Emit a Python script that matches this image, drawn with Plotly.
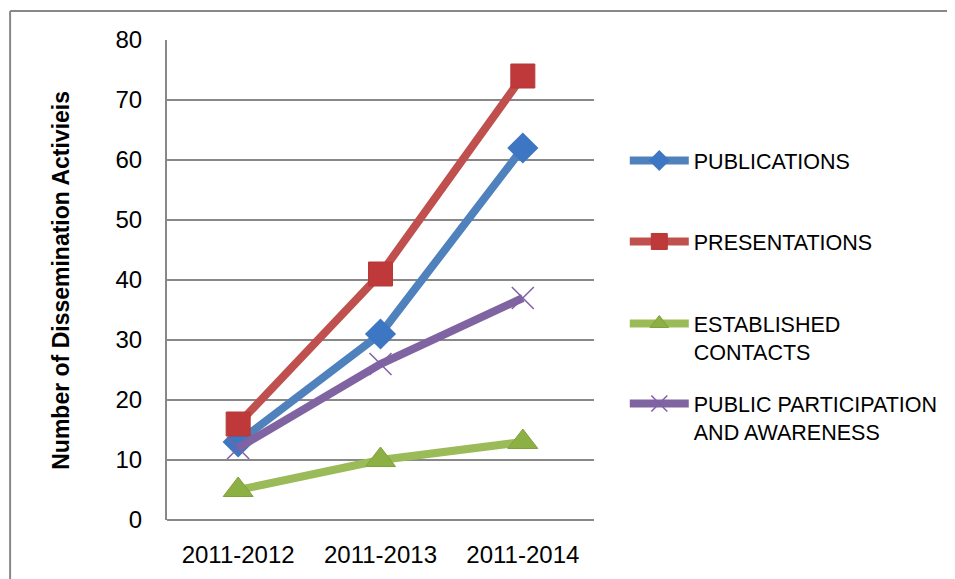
import plotly.graph_objects as go

categories = ["2011-2012", "2011-2013", "2011-2014"]
publications = [13, 31, 62]
presentations = [16, 41, 74]
established_contacts = [5, 10, 13]
public_participation = [12, 26, 37]
series_names = ["PUBLICATIONS", "PRESENTATIONS", "ESTABLISHED<br>CONTACTS",
                "PUBLIC PARTICIPATION<br>AND AWARENESS"]
y_ticks = [0, 10, 20, 30, 40, 50, 60, 70, 80]
y_title = "Number of Dissemination Activieis"

# page body has an 8px margin: figure sized to fit the 955x579 window
OFF = 8
W, H = 955 - OFF, 579 - OFF
L, R, T, B = 167, 597, 40, 520  # plot area in screen pixels

def px_x(px):
    return (px - L) / (R - L)

def px_y(py):
    return (B - py) / (B - T)

FONT = "Liberation Sans, Arial, sans-serif"

fig = go.Figure()
specs = [
    (publications, "#4F81BD", dict(symbol="diamond", size=24, color="#3D76C2",
                                   line=dict(color="#3D76C2", width=0))),
    (presentations, "#C0504D", dict(symbol="square", size=24, color="#C0393A",
                                    line=dict(color="#B23A37", width=1))),
    (established_contacts, "#9BBB59", dict(symbol="triangle-up", size=26, color="#8CB043",
                                           line=dict(color="#7FA23C", width=1))),
    (public_participation, "#8064A2", dict(symbol="x-thin", size=22, color="#7F60A6",
                                           line=dict(color="#7F60A6", width=1.5))),
]
legend_ids = ["legend", "legend2", "legend3", "legend4"]
legend_tops = [140, 221, 303, 383]
for i, (vals, col, mk) in enumerate(specs):
    fig.add_trace(go.Scatter(
        x=categories, y=vals, name=series_names[i], mode="lines+markers",
        line=dict(color=col, width=8), marker=mk, legend=legend_ids[i],
    ))

grid = "#888888"
layout_legends = {}
for lid, top in zip(legend_ids, legend_tops):
    layout_legends[lid] = dict(
        x=px_x(628), xanchor="left", y=px_y(top), yanchor="top",
        font=dict(family=FONT, size=21.5, color="#000000"),
        itemwidth=59, valign="top", bgcolor="rgba(0,0,0,0)",
    )

fig.update_layout(
    width=W, height=H,
    margin=dict(l=L - OFF, r=W + OFF - R, t=T - OFF, b=H + OFF - B, pad=0),
    paper_bgcolor="white", plot_bgcolor="white",
    font=dict(family=FONT, size=21, color="#000000"),
    showlegend=True,
    xaxis=dict(
        type="category", range=[-0.5, 2.5], showgrid=False,
        showline=False, ticks="", zeroline=False,
        tickfont=dict(family=FONT, size=24), ticklabelstandoff=18,
    ),
    yaxis=dict(
        range=[0, 80], tickvals=y_ticks, showgrid=True, gridcolor=grid, gridwidth=1.5,
        showline=True, linecolor=grid, linewidth=2, ticks="", zeroline=False,
        tickfont=dict(family=FONT, size=24), ticklabelstandoff=18,
    ),
    annotations=[dict(
        text="<b>" + y_title + "</b>", textangle=-90, xref="paper", yref="paper",
        x=px_x(60), y=0.5, xanchor="center", yanchor="middle", showarrow=False,
        font=dict(family=FONT, size=23, color="#000000"),
    )],
    shapes=[
        dict(type="line", xref="paper", yref="paper", x0=0, x1=1,
             y0=0, y1=0, line=dict(color=grid, width=2), layer="below"),
        dict(type="line", xref="paper", yref="paper", x0=px_x(9), x1=px_x(9),
             y0=px_y(11), y1=px_y(585), line=dict(color="#888888", width=2)),
        dict(type="line", xref="paper", yref="paper", x0=px_x(9), x1=px_x(960),
             y0=px_y(11), y1=px_y(11), line=dict(color="#888888", width=2)),
    ],
    **layout_legends,
)

fig.write_html("out.html")
